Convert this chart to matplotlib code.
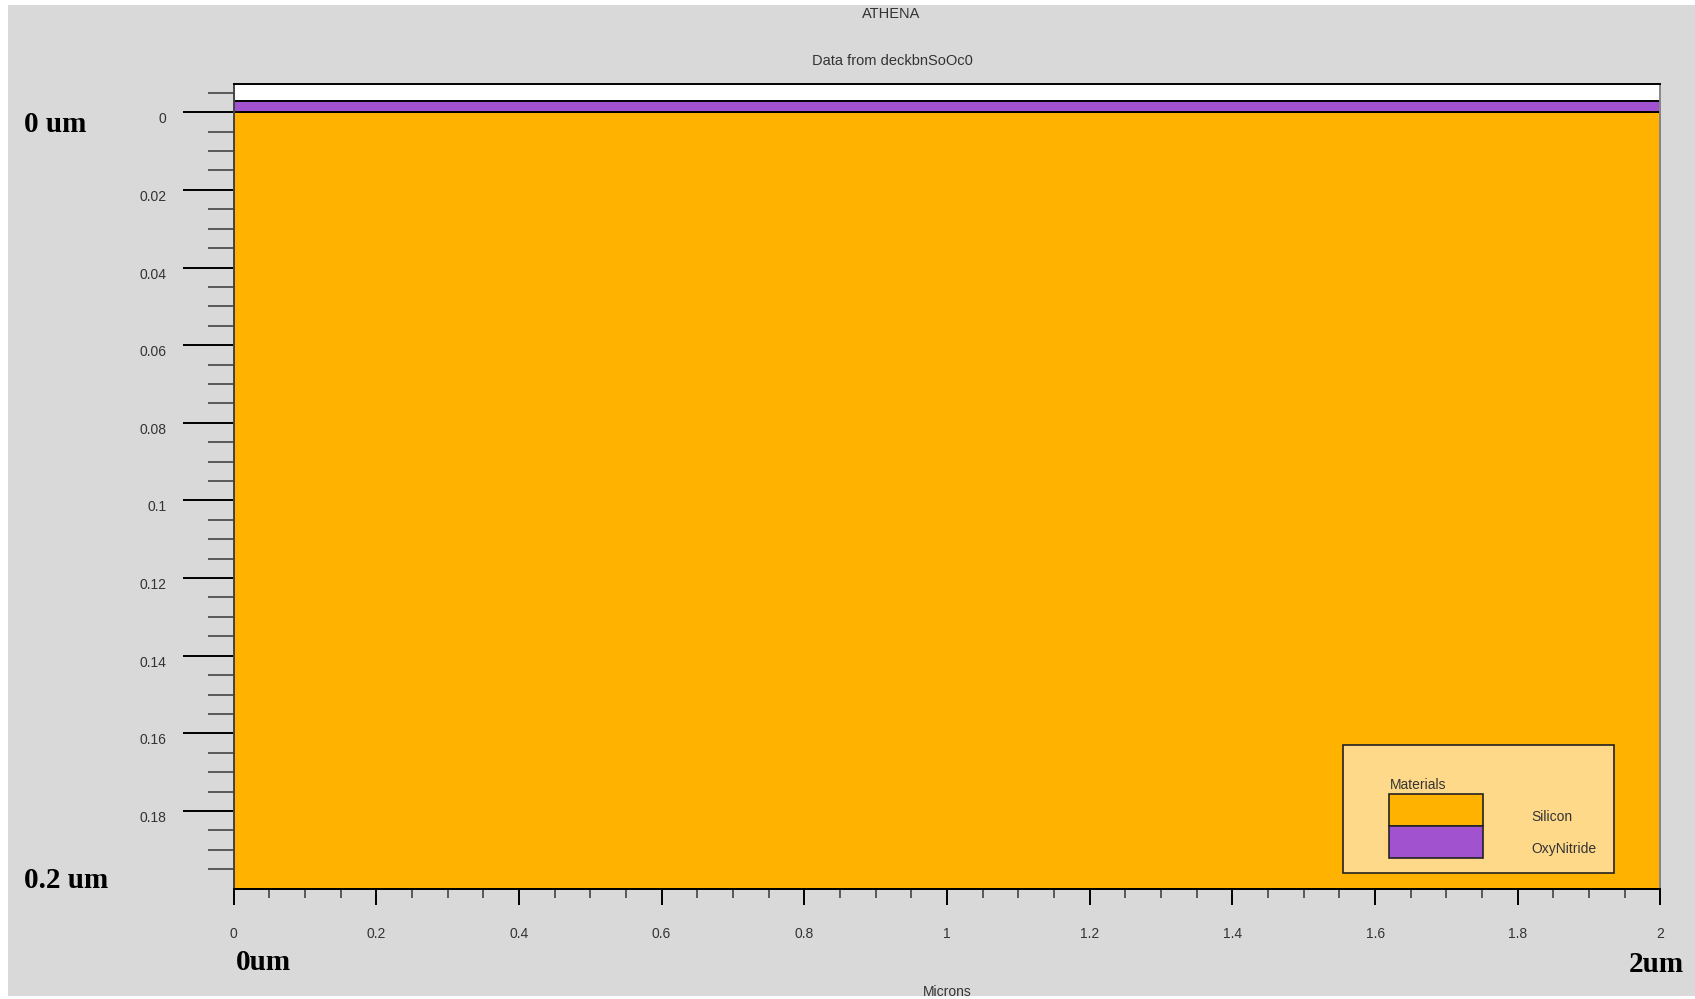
import matplotlib
matplotlib.use("Agg")
import matplotlib.pyplot as plt
import numpy as np
from matplotlib.patches import Rectangle
from matplotlib.ticker import FixedLocator, FormatStrFormatter

W, H = 1695, 999
DPI = 100

# Material layers of the structure (depth in microns, positive = down)
materials = ["Silicon", "OxyNitride"]
layer_top = [0.0, -0.003]
layer_bottom = [0.2, 0.0]
layer_colors = ["#FFB300", "#A152CE"]

x_extent = [0.0, 2.0]
y_view_top = -0.0072
y_view_bottom = 0.2

y_major = [0, 0.02, 0.04, 0.06, 0.08, 0.1, 0.12, 0.14, 0.16, 0.18]
x_major = [0, 0.2, 0.4, 0.6, 0.8, 1, 1.2, 1.4, 1.6, 1.8, 2]

BG = "#D9D9D9"
TXT = "#333333"
SANS = ["Liberation Sans", "DejaVu Sans"]
SERIF = ["Liberation Serif", "DejaVu Serif"]


def fx(px):
    return px / W


def fy(py):
    return 1 - py / H


fig = plt.figure(figsize=(W / DPI, H / DPI), dpi=DPI)
fig.patch.set_facecolor("white")
fig.patches.append(
    Rectangle((fx(8), fy(996)), fx(W - 8), (996 - 5) / H,
              transform=fig.transFigure, facecolor=BG, edgecolor="none", zorder=-10)
)

# Plot area
left, right, top, bottom = 233.5, 1660.5, 84.3, 888.6
ax = fig.add_axes([fx(left), fy(bottom), fx(right - left), (bottom - top) / H])
ax.set_facecolor("white")

for name, t, b, c in zip(materials, layer_top, layer_bottom, layer_colors):
    ax.fill_between(x_extent, t, b, facecolor=c, edgecolor="black", linewidth=1.4, zorder=2)

ax.set_xlim(x_extent)
ax.set_ylim(y_view_bottom, y_view_top)

# Ticks
ax.yaxis.set_major_locator(FixedLocator(y_major))
ax.yaxis.set_minor_locator(FixedLocator(np.round(np.arange(-0.005, 0.1951, 0.005), 3)))
ax.yaxis.set_major_formatter(FormatStrFormatter("%g"))
ax.xaxis.set_major_locator(FixedLocator(x_major))
ax.xaxis.set_minor_locator(FixedLocator(np.round(np.arange(0, 2.0001, 0.05), 2)))
ax.xaxis.set_major_formatter(FormatStrFormatter("%g"))

ax.tick_params(axis="y", which="major", direction="out", length=36.5, width=1.4,
               color="black", pad=12, labelsize=10, labelcolor=TXT)
ax.tick_params(axis="y", which="minor", direction="out", length=18.5, width=1.2,
               color="#444444")
ax.tick_params(axis="x", which="major", direction="out", length=11.5, width=1.4,
               color="black", pad=16, labelsize=10, labelcolor=TXT)
ax.tick_params(axis="x", which="minor", direction="out", length=6.7, width=1.2,
               color="#444444")
for lab in ax.get_yticklabels():
    lab.set_verticalalignment("top")
    lab.set_family(SANS)
for lab in ax.get_xticklabels():
    lab.set_family(SANS)

ax.spines["top"].set_color("black")
ax.spines["bottom"].set_color("black")
ax.spines["left"].set_color("#444444")
ax.spines["right"].set_color("#888888")
for s in ax.spines.values():
    s.set_linewidth(1.4)

# Titles
fig.text(fx(891), fy(14), "ATHENA", ha="center", va="center",
         fontsize=10.5, color=TXT, family=SANS)
fig.text(fx(892), fy(61), "Data from deckbnSoOc0", ha="center", va="center",
         fontsize=10.5, color=TXT, family=SANS)
fig.text(fx(947), fy(992), "Microns", ha="center", va="center",
         fontsize=10, color=TXT, family=SANS)

# Dimension annotations
big = dict(fontsize=21, fontweight="bold", family=SERIF, color="black", va="center")
fig.text(fx(24), fy(124), "0 um", ha="left", **big)
fig.text(fx(24), fy(880), "0.2 um", ha="left", **big)
fig.text(fx(236), fy(962), "0um", ha="left", **big)
fig.text(fx(1684), fy(964), "2um", ha="right", **big)

# Materials legend
fig.patches.append(
    Rectangle((fx(1343), fy(873)), fx(1614 - 1343), (873 - 745) / H,
              transform=fig.transFigure, facecolor="#FFD98A", edgecolor="#222222",
              linewidth=1.2, zorder=5)
)
fig.text(fx(1390), fy(785), "Materials", ha="left", va="center",
         fontsize=10, color=TXT, family=SANS, zorder=6)
sw_top = 794
sw_h = 32
for i, (name, c) in enumerate(zip(materials, layer_colors)):
    y0 = sw_top + i * sw_h
    fig.patches.append(
        Rectangle((fx(1389), fy(y0 + sw_h)), fx(1483 - 1389), sw_h / H,
                  transform=fig.transFigure, facecolor=c, edgecolor="#222222",
                  linewidth=1.2, zorder=6)
    )
    fig.text(fx(1531), fy(y0 + sw_h / 2 + 7), name, ha="left", va="center",
             fontsize=10, color=TXT, family=SANS, zorder=7)

fig.savefig("out.png", dpi=DPI, facecolor=fig.get_facecolor())
